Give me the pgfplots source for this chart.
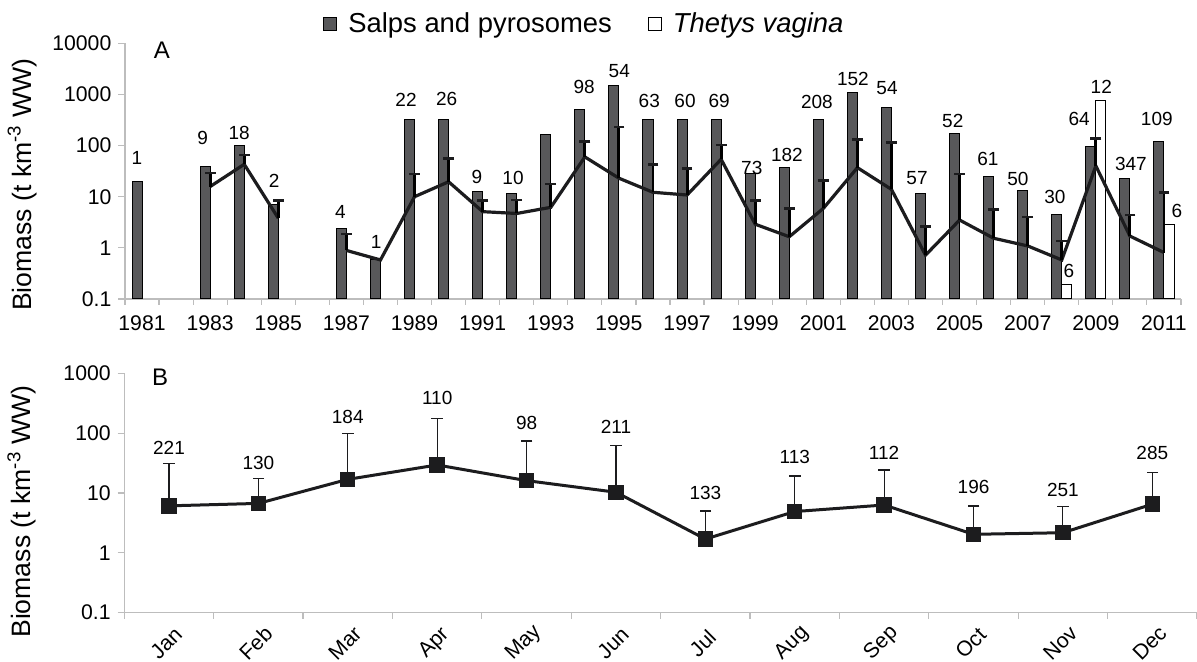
\documentclass[border=0pt]{standalone}
\usepackage{fontspec}
\setmainfont{Liberation Sans}
\usepackage{pgfplots}
\pgfplotsset{compat=1.18}
\definecolor{barfill}{HTML}{58585A}
\definecolor{linec}{HTML}{1C1C1E}
\definecolor{axisgray}{HTML}{BDBDBD}
\begin{document}
\begin{tikzpicture}
\useasboundingbox (0,0) rectangle (598.5pt,331pt);
% ---------------- Panel A ----------------
\begin{axis}[
  scale only axis,
  ymode=log,
  log origin=infty,
  axis lines=left,
  axis line style={-, axisgray, line width=0.6pt},
  yminorticks=false,
  tick align=outside,
  major tick length=3.3pt,
  minor tick length=3pt,
  major x tick style={draw=none},
  minor x tick style={axisgray, line width=0.6pt},
  major y tick style={axisgray, line width=0.6pt},
  tick label style={font=\fontsize{10.6}{12}\selectfont, text=black},
  ylabel style={font=\fontsize{13.3}{16}\selectfont, text=black},
  clip=false,
  unbounded coords=jump,
  at={(62.5pt,181.5pt)}, anchor=south west,
  width=528pt, height=127.85pt,
  xmin=1980.5, xmax=2011.5, ymin=0.1, ymax=10000,
  xtick={1981,1983,1985,1987,1989,1991,1993,1995,1997,1999,2001,2003,2005,2007,2009,2011},
  xticklabels={1981,1983,1985,1987,1989,1991,1993,1995,1997,1999,2001,2003,2005,2007,2009,2011},
  minor xtick={1980.5,1981.5,...,2011.5},
  xticklabel style={yshift=-1.3pt},
  ytick={0.1,1,10,100,1000,10000},
  yticklabels={0.1,1,10,100,1000,10000},
  ylabel={Biomass (t km\textsuperscript{-3} WW)},
  ylabel style={at={(axis description cs:-0.0975,0.447)}, anchor=center},
  legend style={at={(0.436,1)}, anchor=south, yshift=1.5pt, draw=none, fill=none,
    legend columns=2, font=\fontsize{13.7}{16}\selectfont, inner sep=0pt,
    /tikz/every odd column/.append style={column sep=3.5pt},
    /tikz/every even column/.append style={column sep=16pt}},
  legend cell align=left,
]
\addplot[ybar, bar width=0.294, bar shift=-0.147, fill=barfill, draw=black, line width=0.5pt,
  legend image code/.code={\draw[fill=barfill, draw=black, line width=0.5pt] (0pt,-3.25pt) rectangle (6.5pt,3.25pt);}]
  coordinates {
  (1981,20) (1983,39) (1984,100) (1985,7) (1987,2.4) (1988,0.6) (1989,325) (1990,325)
  (1991,12.6) (1992,11.7) (1993,161) (1994,498) (1995,1500) (1996,325) (1997,325) (1998,325)
  (1999,29) (2000,38) (2001,325) (2002,1100) (2003,560) (2004,11.7) (2005,173) (2006,25)
  (2007,13) (2008,4.4) (2009,97) (2010,23) (2011,121)
  };
\addlegendentry{Salps and pyrosomes}
\addplot[ybar, bar width=0.294, bar shift=0.147, fill=white, draw=black, line width=0.5pt,
  legend image code/.code={\draw[fill=white, draw=black, line width=0.5pt] (0pt,-3.25pt) rectangle (6.5pt,3.25pt);}]
  coordinates {(2008,0.19) (2009,750) (2011,2.8)};
\addlegendentry{\textit{Thetys vagina}}
% mean line
\addplot[forget plot, draw=linec, line width=1.6pt, mark=none]
  table[x=x, y=y] {
x y
1983 15.8
1984 43
1985 3.8
1986 nan
1987 0.89
1988 0.58
1989 10
1990 19.6
1991 5.1
1992 4.7
1993 6.2
1994 60
1995 23
1996 12.2
1997 10.8
1998 54
1999 2.9
2000 1.65
2001 5.9
2002 37
2003 13.9
2004 0.72
2005 3.5
2006 1.54
2007 1.09
2008 0.58
2009 40
2010 1.7
2011 0.81
};
% error bars (upper only): mean -> upper value
\addplot[forget plot, draw=black, solid, line width=1.45pt, mark=none]
  table[x=x, y=y] {
x y
1983 15.8
1983 29
1983 nan
1984 43
1984 65
1984 nan
1985 3.8
1985 8.3
1985 nan
1987 0.89
1987 1.86
1987 nan
1989 10
1989 27.7
1989 nan
1990 19.6
1990 56
1990 nan
1991 5.1
1991 8.3
1991 nan
1992 4.7
1992 8.6
1992 nan
1993 6.2
1993 17.7
1993 nan
1994 60
1994 119
1994 nan
1995 23
1995 230
1995 nan
1996 12.2
1996 42
1996 nan
1997 10.8
1997 36
1997 nan
1998 54
1998 103
1998 nan
1999 2.9
1999 8.3
1999 nan
2000 1.65
2000 5.9
2000 nan
2001 5.9
2001 21
2001 nan
2002 37
2002 132
2002 nan
2003 13.9
2003 116
2003 nan
2004 0.72
2004 2.6
2004 nan
2005 3.5
2005 27.7
2005 nan
2006 1.54
2006 5.6
2006 nan
2007 1.09
2007 4.0
2007 nan
2008 0.58
2008 1.37
2008 nan
2009 40
2009 139
2009 nan
2010 1.7
2010 4.4
2010 nan
2011 0.81
2011 12
};
% caps
\addplot[forget plot, only marks, mark=-, mark size=2.7pt, mark options={color=linec, line width=1.35pt}]
  table[x=x, y=y] {
x y
1983 29
1984 65
1985 8.3
1987 1.86
1989 27.7
1990 56
1991 8.3
1992 8.6
1993 17.7
1994 119
1995 230
1996 42
1997 36
1998 103
1999 8.3
2000 5.9
2001 21
2002 132
2003 116
2004 2.6
2005 27.7
2006 5.6
2007 4.0
2008 1.37
2009 139
2010 4.4
2011 12
};
% sample counts
\addplot[forget plot, only marks, mark=text, text mark={},
  nodes near coords, point meta=explicit symbolic,
  nodes near coords style={anchor=center, font=\fontsize{9.5}{11}\selectfont, text=black, inner sep=0pt}]
  table[x=x, y=y, meta=t] {
x y t
1980.85 57.1 1
1982.78 140.6 9
1983.85 176 18
1984.88 20.3 2
1986.82 5.0 4
1987.87 1.30 1
1988.75 778 22
1989.94 815 26
1990.83 24.3 9
1991.89 23.2 10
1993.98 1397 98
1995.01 2872 54
1995.89 745 63
1996.94 745 60
1997.94 745 69
1998.90 36.5 73
1999.93 65.5 182
2000.81 721 208
2001.87 2004 152
2002.87 1336 54
2003.75 23.5 57
2004.80 303 52
2005.83 54.7 61
2006.71 22.2 50
2007.80 9.9 30
2008.21 0.353 6
2008.51 331 64
2009.16 1397 12
2010.03 43.6 347
2010.79 331 109
2011.38 5.33 6
};
\node[font=\fontsize{12}{14}\selectfont] at (rel axis cs:0.0348,0.974) {A};
\end{axis}
% ---------------- Panel B ----------------
\begin{axis}[
  scale only axis,
  ymode=log,
  axis lines=left,
  axis line style={-, axisgray, line width=0.6pt},
  yminorticks=false,
  tick align=outside,
  major tick length=3.3pt,
  minor tick length=3pt,
  major x tick style={draw=none},
  minor x tick style={axisgray, line width=0.6pt},
  major y tick style={axisgray, line width=0.6pt},
  tick label style={font=\fontsize{10.6}{12}\selectfont, text=black},
  ylabel style={font=\fontsize{13.3}{16}\selectfont, text=black},
  clip=false,
  unbounded coords=jump,
  at={(62.15pt,24.65pt)}, anchor=south west,
  width=536.35pt, height=119.7pt,
  xmin=-0.5, xmax=11.5, ymin=0.1, ymax=1000,
  xtick={0,1,2,3,4,5,6,7,8,9,10,11},
  xticklabels={Jan,Feb,Mar,Apr,May,Jun,Jul,Aug,Sep,Oct,Nov,Dec},
  minor xtick={-0.5,0.5,1.5,2.5,3.5,4.5,5.5,6.5,7.5,8.5,9.5,10.5,11.5},
  xticklabel style={xshift=-1.4pt, yshift=-11.9pt, rotate=45, anchor=center},
  ytick={0.1,1,10,100,1000},
  yticklabels={0.1,1,10,100,1000},
  ylabel={Biomass (t km\textsuperscript{-3} WW)},
  ylabel style={at={(axis description cs:-0.0954,0.423)}, anchor=center},
]
% error bars: mean -> upper value
\addplot[draw=linec, line width=0.55pt, mark=none]
  table[x=x, y=y] {
x y
0 6.1
0 31.3
0 nan
1 6.7
1 17.3
1 nan
2 16.9
2 100
2 nan
3 29.4
3 177
3 nan
4 16.1
4 74
4 nan
5 10.3
5 62.7
5 nan
6 1.70
6 5.0
6 nan
7 4.9
7 19.2
7 nan
8 6.3
8 24.2
8 nan
9 2.04
9 6.07
9 nan
10 2.17
10 5.9
10 nan
11 6.5
11 22.2
};
\addplot[only marks, mark=-, mark size=2.9pt, mark options={color=linec, line width=0.6pt}]
  table[x=x, y=y] {
x y
0 31.3
1 17.3
2 100
3 177
4 74
5 62.7
6 5.0
7 19.2
8 24.2
9 6.07
10 5.9
11 22.2
};
\addplot[draw=linec, line width=1.5pt, mark=square*, mark size=3.1pt, mark options={solid, fill=linec, draw=linec}]
  table[x=x, y=y] {
x y
0 6.1
1 6.7
2 16.9
3 29.4
4 16.1
5 10.3
6 1.70
7 4.9
8 6.3
9 2.04
10 2.17
11 6.5
};
\addplot[only marks, mark=text, text mark={},
  nodes near coords, point meta=explicit symbolic,
  nodes near coords style={anchor=center, font=\fontsize{9.5}{11}\selectfont, text=black, inner sep=0pt}]
  table[x=x, y=y, meta=t] {
x y t
0 57.1 221
1 31.3 130
2 188 184
3 391 110
4 150 98
5 128 211
6 10.1 133
7 39.5 113
8 47.1 112
9 12.4 196
10 11.2 251
11 46 285
};
\node[font=\fontsize{12}{14}\selectfont] at (rel axis cs:0.0333,0.985) {B};
\end{axis}
\end{tikzpicture}
\end{document}
